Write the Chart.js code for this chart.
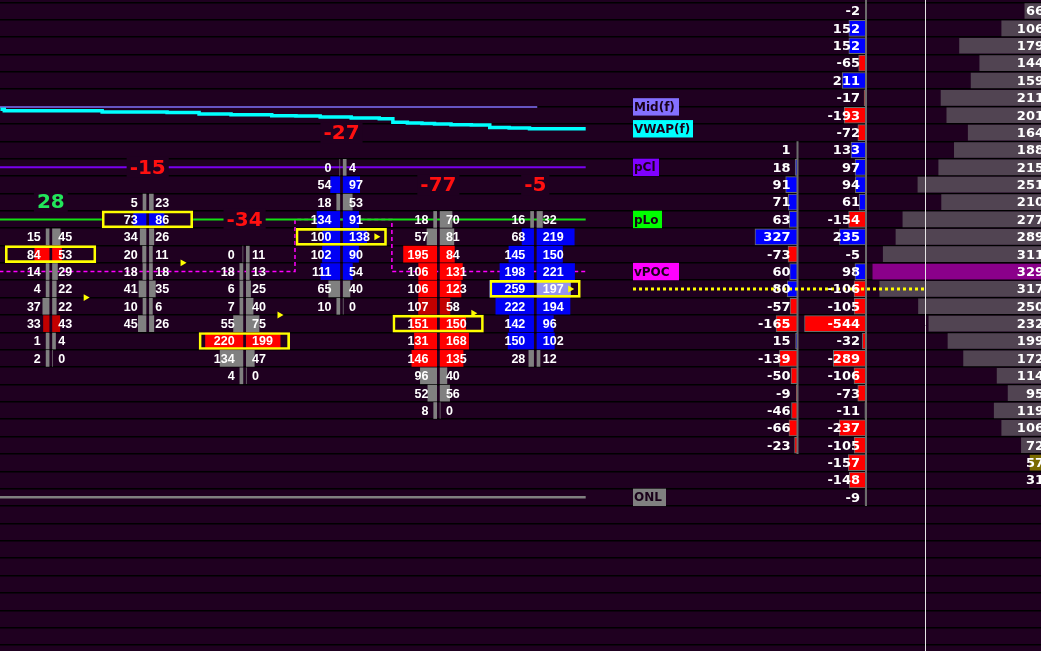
<!DOCTYPE html>
<html>
<head>
<meta charset="utf-8">
<title>Footprint</title>
<script src="https://cdn.jsdelivr.net/npm/chart.js@4.4.1/dist/chart.umd.min.js"></script>
<style>
  html, body { margin: 0; padding: 0; background: #1f0020; overflow: hidden; }
  #box { position: relative; width: 1041px; height: 651px; }
</style>
</head>
<body>
<div id="box"><canvas id="fp"></canvas></div>
<script>
// rows are price levels counted from the top of the window (row 0 = top level)

// footprint columns
const fpDelta    = [28, -15, -34, -27, -77, -5];
const fpDeltaRow = [11, 9, 12, 7, 10, 10];
const fpFirstRow = [13, 11, 14, 9, 12, 12];
const fpPocRow   = [14, 12, 19, 13, 18, 16];
const fpCloseRow = [16.5, 14.5, 17.5, 13, 17.4, 16];
const fpBid = [
  [15, 84, 14, 4, 37, 33, 1, 2],
  [5, 73, 34, 20, 18, 41, 10, 45],
  [0, 18, 6, 7, 55, 220, 134, 4],
  [0, 54, 18, 134, 100, 102, 111, 65, 10],
  [18, 57, 195, 106, 106, 107, 151, 131, 146, 96, 52, 8],
  [16, 68, 145, 198, 259, 222, 142, 150, 28]
];
const fpAsk = [
  [45, 53, 29, 22, 22, 43, 4, 0],
  [23, 86, 26, 11, 18, 35, 6, 26],
  [11, 13, 25, 40, 75, 199, 47, 0],
  [4, 97, 53, 91, 138, 90, 54, 40, 0],
  [70, 81, 84, 131, 123, 58, 150, 168, 135, 40, 56, 0],
  [32, 219, 150, 221, 197, 194, 96, 102, 12]
];
// bid/ask tone per cell: g gray, r red, d dark red, b blue, l light blue
const fpTone = [
  ['gg', 'rr', 'gg', 'gg', 'gg', 'dd', 'gg', 'gg'],
  ['gg', 'bb', 'gg', 'gg', 'gg', 'gg', 'gg', 'gg'],
  ['gg', 'gg', 'gg', 'gg', 'gg', 'rr', 'gg', 'gg'],
  ['gg', 'bb', 'gg', 'bb', 'bb', 'bb', 'bb', 'gg', 'gg'],
  ['gg', 'gg', 'rr', 'rr', 'rr', 'dd', 'rr', 'rr', 'rr', 'gg', 'gg', 'gg'],
  ['gg', 'bb', 'bb', 'bb', 'bl', 'bb', 'bb', 'bb', 'gg']
];

// reference levels
const vpocRow = [15, 15, 15, 12, 15, 15];
const midRow = 5.52, pClRow = 9, pLoRow = 12, onlRow = 28;
const lastPriceRow = 16;
const vwapTime  = [-0.52, -0.48, 0.53, 1.2, 1.53, 1.86, 2.28, 2.53, 2.78, 3.1, 3.39, 3.53, 3.68, 3.83, 3.96, 4.13, 4.34, 4.53, 4.73, 4.94];
const vwapLevel = [5.66, 5.74, 5.81, 5.85, 5.93, 5.97, 6.03, 6.04, 6.10, 6.16, 6.20, 6.41, 6.45, 6.47, 6.51, 6.55, 6.56, 6.70, 6.74, 6.78];

// right side: two delta ladders and the volume profile
const deltaAFirstRow = 8;
const deltaA = [1, 18, 91, 71, 63, 327, -73, 60, 80, -57, -165, 15, -139, -50, -9, -46, -66, -23];
const deltaB = [-2, 152, 152, -65, 211, -17, -193, -72, 133, 97, 94, 61, -154, 235, -5, 98,
  -106, -105, -544, -32, -289, -106, -73, -11, -237, -105, -157, -148, -9];
const profileVol = [66, 106, 179, 144, 159, 211, 201, 164, 188, 215, 251, 210, 277, 289, 311,
  329, 317, 250, 232, 199, 172, 114, 95, 119, 106, 72, 57, 31];
const profilePocRow = 15, profileLowRow = 26;

// ---- layout ----
const W = 1041, H = 651;
const ROW_PX = 17.37, ROW0_PX = 11;
const COL0_PX = 50.8, COL_PX = 96.9, VOL_PX = 0.17;
const SESSION_START = -0.53, SESSION_END = 5.52, MID_END = 5.02;
const BG = '#1f0020';
const toneColor = {g: '#808080', r: '#ff0000', d: '#c20000', b: '#0000f4', l: '#9494ee'};

function axisFrom(zeroPx, pxPerUnit, reverse) {
  const base = {type: 'linear', axis: 'x', display: false, offset: false, grid: {offset: false}};
  if (reverse) {
    return Object.assign(base, {reverse: true, min: (zeroPx - W) / pxPerUnit, max: zeroPx / pxPerUnit});
  }
  return Object.assign(base, {min: -zeroPx / pxPerUnit, max: (W - zeroPx) / pxPerUnit});
}

const GAP = 1.7 / COL_PX;
const barLen = v => v === 0 ? 0 : Math.max(v * VOL_PX, 3) / COL_PX;

const bidBars = [], askBars = [], bidColors = [], askColors = [];
fpBid.forEach((col, c) => col.forEach((v, j) => {
  const row = fpFirstRow[c] + j;
  const a = fpAsk[c][j];
  bidBars.push({y: row, x: [c - GAP, c - GAP - barLen(v)]});
  askBars.push({y: row, x: [c + GAP, c + GAP + barLen(a)]});
  bidColors.push(toneColor[fpTone[c][j][0]]);
  askColors.push(toneColor[fpTone[c][j][1]]);
}));
const pocBoxes = fpPocRow.map((r, c) => ({y: r, x: [c - 0.47, c + 0.465]}));

const vpocPts = vpocRow.map((r, c) => ({x: c === 0 ? SESSION_START : c - 0.48, y: r}));
vpocPts.push({x: SESSION_END, y: vpocRow[vpocRow.length - 1]});
const vwapPts = vwapTime.map((t, i) => ({x: t, y: vwapLevel[i]}));
vwapPts.push({x: SESSION_END, y: vwapLevel[vwapLevel.length - 1]});

const flat = (row, from, to) => [{x: from, y: row}, {x: to, y: row}];
const lineSet = (data, color, width, order, extra) => Object.assign({
  type: 'line', indexAxis: 'x', xAxisID: 'x', yAxisID: 'y', data,
  borderColor: color, borderWidth: width, pointRadius: 0, order
}, extra || {});
const barSet = (data, axis, colors, thick, order, extra) => Object.assign({
  type: 'bar', indexAxis: 'y', xAxisID: axis, yAxisID: 'y', data, grouped: false,
  backgroundColor: colors, barThickness: thick, borderWidth: 0, order
}, extra || {});

const datasets = [
  lineSet(vpocPts, '#ff00ff', 1.5, 100, {stepped: true, borderDash: [4, 3]}),
  lineSet(flat(pClRow, SESSION_START, SESSION_END), '#7a00f0', 2, 90),
  lineSet(flat(pLoRow, SESSION_START, SESSION_END), '#12e012', 2, 90),
  lineSet(flat(onlRow, SESSION_START, SESSION_END), '#808080', 2.5, 90),
  lineSet(flat(midRow, SESSION_START, MID_END), '#8470ff', 1.5, 90),
  lineSet(vwapPts, '#00ffff', 3.5, 89, {stepped: true}),
  barSet(pocBoxes, 'x', BG, 17, 80),
  barSet(bidBars, 'x', bidColors, 16, 70),
  barSet(askBars, 'x', askColors, 16, 70),
  barSet(pocBoxes, 'x', 'rgba(0,0,0,0)', 17, 60,
    {borderWidth: 2, borderColor: '#ffff00', borderSkipped: false}),
  barSet(deltaA.map((v, i) => ({y: deltaAFirstRow + i, x: Math.abs(v)})), 'xa',
    deltaA.map(v => v >= 0 ? '#0000ff' : '#ff0000'), 16, 70,
    {borderWidth: 1, borderColor: '#6c6c6c'}),
  barSet(deltaB.map((v, i) => ({y: i, x: Math.abs(v)})), 'xb',
    deltaB.map(v => v >= 0 ? '#0000ff' : '#ff0000'), 16, 70,
    {borderWidth: 1, borderColor: '#6c6c6c'}),
  barSet(profileVol.map((v, i) => ({y: i, x: v})), 'vp',
    profileVol.map((v, i) => i === profilePocRow ? '#8a008a' : i === profileLowRow ? '#7a6a00' : '#514452'), 15, 70),
  lineSet([{x: 0, y: deltaAFirstRow - 0.5}, {x: 0, y: deltaAFirstRow + deltaA.length - 0.5}], '#6c6c6c', 2, 50, {xAxisID: 'xa'}),
  lineSet([{x: 0, y: -1}, {x: 0, y: deltaB.length - 0.5}], '#6c6c6c', 2, 50, {xAxisID: 'xb'}),
  {type: 'scatter', xAxisID: 'x', yAxisID: 'y', order: 10,
    data: fpCloseRow.map((r, c) => ({x: c + 0.36, y: r})),
    pointStyle: 'triangle', rotation: 90, pointRadius: 4, backgroundColor: '#ffff00', borderWidth: 0}
];

const tags = [
  {text: 'Mid(f)', row: midRow, bg: '#8470ff', w: 46},
  {text: 'VWAP(f)', row: vwapLevel[vwapLevel.length - 1], bg: '#00ffff', w: 60},
  {text: 'pCl', row: pClRow, bg: '#8000ff', w: 26},
  {text: 'pLo', row: pLoRow, bg: '#00ff00', w: 29},
  {text: 'vPOC', row: vpocRow[vpocRow.length - 1], bg: '#ff00ff', w: 46},
  {text: 'ONL', row: onlRow, bg: '#808080', w: 33}
];

const overlay = {
  id: 'overlay',
  afterDatasetsDraw(chart) {
    const {ctx, scales: {x, y, xa, xb, vp}} = chart;
    const py = r => y.getPixelForValue(r);
    ctx.save();

    // cursor line in the profile and last price
    ctx.strokeStyle = '#e4e4e4';
    ctx.lineWidth = 1;
    ctx.beginPath(); ctx.moveTo(925.5, 0); ctx.lineTo(925.5, H); ctx.stroke();
    ctx.strokeStyle = '#ffff00';
    ctx.lineWidth = 3;
    ctx.setLineDash([3, 3]);
    ctx.beginPath(); ctx.moveTo(633, py(lastPriceRow)); ctx.lineTo(925, py(lastPriceRow)); ctx.stroke();
    ctx.setLineDash([]);

    ctx.textBaseline = 'middle';

    // bar deltas above each column
    ctx.font = 'bold 20px "DejaVu Sans"';
    ctx.textAlign = 'center';
    fpDelta.forEach((d, c) => {
      const cx = x.getPixelForValue(c), cy = py(fpDeltaRow[c]);
      const t = String(d), w = ctx.measureText(t).width + 6;
      ctx.fillStyle = BG;
      ctx.fillRect(cx - w / 2, cy - 10.5, w, 21);
      ctx.fillStyle = d >= 0 ? '#22e65a' : '#ff1010';
      ctx.fillText(t, cx, cy + 1);
    });

    // bid x ask numbers
    ctx.font = 'bold 12.5px "Liberation Sans"';
    ctx.fillStyle = '#ffffff';
    fpBid.forEach((col, c) => {
      const cx = x.getPixelForValue(c);
      col.forEach((v, j) => {
        const cy = py(fpFirstRow[c] + j) + 1;
        ctx.textAlign = 'right';
        ctx.fillText(String(v), cx - 10, cy);
        ctx.textAlign = 'left';
        ctx.fillText(String(fpAsk[c][j]), cx + 7.5, cy);
      });
    });

    // level tags
    ctx.font = 'bold 12px "DejaVu Sans"';
    ctx.textAlign = 'left';
    tags.forEach(t => {
      const cy = py(t.row);
      ctx.fillStyle = t.bg;
      ctx.fillRect(633, cy - 8.7, t.w, 17.4);
      ctx.fillStyle = '#1a001a';
      ctx.fillText(t.text, 634, cy + 1);
    });

    // delta ladders and profile numbers
    ctx.font = 'bold 13px "DejaVu Sans"';
    ctx.fillStyle = '#ffffff';
    ctx.textAlign = 'right';
    const ax = xa.getPixelForValue(0) - 7;
    deltaA.forEach((v, i) => ctx.fillText(String(v), ax, py(deltaAFirstRow + i) + 1));
    const bx = xb.getPixelForValue(0) - 6;
    deltaB.forEach((v, i) => ctx.fillText(String(v), bx, py(i) + 1));
    const vx = vp.getPixelForValue(0) - 19;
    profileVol.forEach((v, i) => ctx.fillText(String(v), vx, py(i) + 1));

    ctx.restore();
  }
};

new Chart(document.getElementById('fp'), {
  type: 'bar',
  data: {datasets},
  options: {
    responsive: true,
    maintainAspectRatio: false,
    animation: false,
    events: [],
    layout: {padding: 0, autoPadding: false},
    plugins: {legend: {display: false}, tooltip: {enabled: false}},
    scales: {
      x: axisFrom(COL0_PX, COL_PX, false),
      xa: axisFrom(797.5, 0.13, true),
      xb: axisFrom(866, 0.113, true),
      vp: axisFrom(1063, 0.578, true),
      y: {
        type: 'linear',
        reverse: true,
        offset: false,
        min: -ROW0_PX / ROW_PX,
        max: (H - ROW0_PX) / ROW_PX,
        ticks: {display: false},
        border: {display: false},
        grid: {color: '#000000', lineWidth: 1.5, drawTicks: false, offset: false},
        afterBuildTicks(s) {
          const t = [];
          for (let k = 0; k <= 37; k++) t.push({value: k - 0.5});
          s.ticks = t;
        },
        afterFit(s) { s.width = 0; }
      }
    }
  },
  plugins: [overlay]
});
</script>
</body>
</html>
